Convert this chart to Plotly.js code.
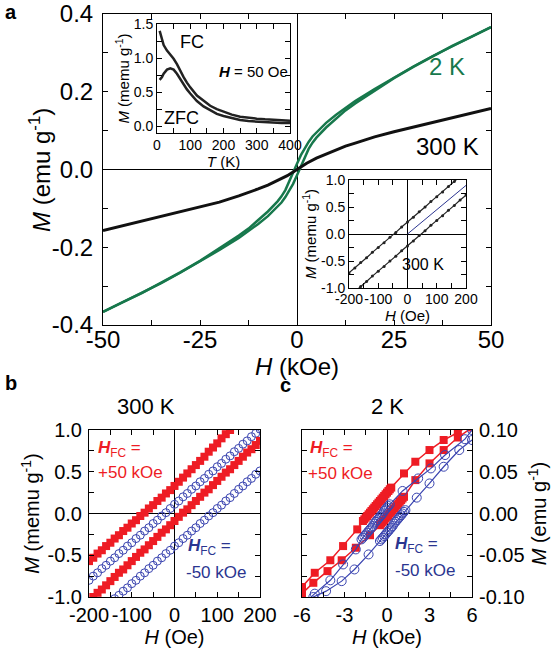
<!DOCTYPE html>
<html><head><meta charset="utf-8">
<script src="https://cdn.plot.ly/plotly-3.0.1.min.js"></script>
<style>html,body{margin:0;padding:0;background:#fff}#plot{width:560px;height:655px}</style>
</head><body><div id="plot"></div>
<script>
// ---------- Panel a: main M(H) loops (kOe, emu/g) ----------
const H_300 = [-50,-45,-40,-35,-30,-25,-20,-15,-12.5,-10,-7.5,-5,-2.5,0,2.5,5,7.5,10,12.5,15,20,25,30,35,40,45,50];
const M_300 = [-0.157,-0.145,-0.133,-0.121,-0.109,-0.097,-0.084,-0.068,-0.060,-0.050,-0.040,-0.029,-0.016,0,0.016,0.029,0.040,0.050,0.060,0.068,0.084,0.097,0.109,0.121,0.133,0.145,0.157];
const H_2K_down = [50,45,40,35,30,25,20,15,12.5,10,7.5,5,4,3,2,1,0,-1,-2,-3,-4,-5,-7.5,-10,-12.5,-15,-20,-25,-30,-35,-40,-45,-50];
const M_2K_down = [0.366,0.342,0.318,0.292,0.265,0.237,0.207,0.176,0.159,0.140,0.120,0.096,0.085,0.071,0.055,0.037,0.015,-0.008,-0.032,-0.053,-0.069,-0.082,-0.108,-0.131,-0.152,-0.170,-0.203,-0.235,-0.264,-0.292,-0.318,-0.342,-0.366];
const H_2K_up = [-50,-45,-40,-35,-30,-25,-20,-15,-12.5,-10,-7.5,-5,-4,-3,-2,-1,0,1,2,3,4,5,7.5,10,12.5,15,20,25,30,35,40,45,50];
const M_2K_up = [-0.366,-0.342,-0.318,-0.292,-0.265,-0.237,-0.207,-0.176,-0.159,-0.140,-0.120,-0.096,-0.085,-0.071,-0.055,-0.037,-0.015,0.008,0.032,0.053,0.069,0.082,0.108,0.131,0.152,0.170,0.203,0.235,0.264,0.292,0.318,0.342,0.366];
const a_xticks = [-50,-25,0,25,50];
const a_xtext = ['-50','-25','0','25','50'];
const a_yticks = [-0.4,-0.2,0,0.2,0.4];
const a_ytext = ['-0.4','-0.2','0.0','0.2','0.4'];

// ---------- Inset 1: FC / ZFC M(T) ----------
const T_fc = [8,15,20,30,40,50,60,70,80,90,100,120,140,160,180,200,225,250,275,300,325,350,375,400];
const M_fc = [1.40,1.28,1.19,1.11,1.05,0.99,0.91,0.81,0.72,0.64,0.57,0.45,0.37,0.30,0.25,0.21,0.17,0.14,0.12,0.11,0.10,0.09,0.085,0.08];
const T_zfc = [8,15,20,30,40,50,60,70,80,90,100,120,140,160,180,200,225,250,275,300,325,350,375,400];
const M_zfc = [0.68,0.72,0.77,0.83,0.85,0.83,0.77,0.69,0.61,0.54,0.48,0.37,0.29,0.23,0.18,0.15,0.12,0.09,0.075,0.065,0.055,0.05,0.045,0.045];
const i1_xticks = [0,100,200,300,400];
const i1_xtext = ['0','100','200','300','400'];
const i1_yticks = [0,0.5,1.0,1.5];
const i1_ytext = ['0.0','0.5','1.0','1.5'];

// ---------- Inset 2: 300 K low-field loop (Oe, memu/g) ----------
const H_i2 = [-200,-180,-160,-140,-120,-100,-80,-60,-40,-20,0,20,40,60,80,100,120,140,160,180,200];
const M_i2_up = [-0.72,-0.63,-0.53,-0.44,-0.34,-0.25,-0.16,-0.06,0.03,0.13,0.22,0.31,0.41,0.50,0.60,0.69,0.78,0.88,0.97,1.07,1.16];
const M_i2_low = [-1.16,-1.07,-0.97,-0.88,-0.78,-0.69,-0.60,-0.50,-0.41,-0.31,-0.22,-0.13,-0.03,0.06,0.16,0.25,0.34,0.44,0.53,0.63,0.72];
const H_i2_virgin = [0,200];
const M_i2_virgin = [0,0.9];
const i2_xticks = [-200,-100,0,100,200];
const i2_xtext = ['-200','-100','0','100','200'];
const i2_yticks = [-1,-0.5,0,0.5,1];
const i2_ytext = ['-1.0','-0.5','0.0','0.5','1.0'];

// ---------- Panel b: 300 K, field-cooled loops ----------
const H_b = [-200,-190,-180,-170,-160,-150,-140,-130,-120,-110,-100,-90,-80,-70,-60,-50,-40,-30,-20,-10,0,10,20,30,40,50,60,70,80,90,100,110,120,130,140,150,160,170,180,190,200];
const M_b_red_up = [-0.57,-0.53,-0.48,-0.44,-0.39,-0.35,-0.30,-0.26,-0.21,-0.17,-0.12,-0.08,-0.03,0.01,0.06,0.10,0.15,0.19,0.24,0.28,0.33,0.38,0.43,0.48,0.53,0.58,0.63,0.68,0.74,0.79,0.84,0.90,0.95,1.00,1.05,1.10,1.15,1.20,1.25,1.30,1.35];
const M_b_red_low = [-1.05,-1.00,-0.95,-0.91,-0.86,-0.81,-0.76,-0.71,-0.67,-0.62,-0.57,-0.52,-0.47,-0.43,-0.38,-0.33,-0.28,-0.23,-0.19,-0.14,-0.09,-0.04,0.01,0.05,0.10,0.15,0.20,0.25,0.29,0.34,0.39,0.44,0.49,0.53,0.58,0.63,0.68,0.73,0.77,0.82,0.87];
const M_b_blue_up = [-0.80,-0.75,-0.71,-0.66,-0.62,-0.57,-0.53,-0.48,-0.44,-0.39,-0.35,-0.30,-0.26,-0.21,-0.17,-0.12,-0.08,-0.03,0.01,0.06,0.11,0.15,0.20,0.24,0.29,0.33,0.38,0.42,0.47,0.51,0.56,0.60,0.65,0.69,0.74,0.78,0.83,0.87,0.92,0.96,1.01];
const M_b_blue_low = [-1.29,-1.25,-1.20,-1.16,-1.11,-1.07,-1.02,-0.98,-0.93,-0.89,-0.84,-0.80,-0.75,-0.71,-0.66,-0.62,-0.57,-0.53,-0.48,-0.44,-0.39,-0.35,-0.30,-0.26,-0.21,-0.17,-0.12,-0.08,-0.03,0.01,0.06,0.10,0.15,0.19,0.24,0.29,0.33,0.38,0.42,0.47,0.51];
const b_xticks = [-200,-100,0,100,200];
const b_xtext = ['-200','-100','0','100','200'];
const b_yticks = [-1,-0.5,0,0.5,1];
const b_ytext = ['-1.0','-0.5','0.0','0.5','1.0'];

// ---------- Panel c: 2 K, field-cooled loops (kOe, emu/g) ----------
const H_c_red_down = [6,5,4,3,2,1.2,0.3,0.2,0.1,0,-0.1,-0.2,-0.3,-0.4,-0.5,-0.6,-0.7,-0.8,-0.9,-1.0,-1.1,-1.2,-1.3,-1.4,-1.5,-1.6,-1.7,-2.1,-3.1,-4,-5.1,-6];
const M_c_red_down = [0.108,0.097,0.088,0.076,0.062,0.048,0.031,0.029,0.027,0.025,0.023,0.021,0.019,0.017,0.015,0.013,0.011,0.009,0.007,0.005,0.003,0.001,-0.001,-0.003,-0.005,-0.007,-0.009,-0.019,-0.039,-0.056,-0.071,-0.088];
const H_c_red_up = [-6,-5.2,-4.2,-3.2,-2.2,-1.2,-0.5,-0.4,-0.3,-0.2,-0.1,0,0.1,0.2,0.3,0.4,0.5,0.6,0.7,0.8,0.9,1.0,1.1,1.2,2,3,4,5,6];
const M_c_red_up = [-0.096,-0.083,-0.069,-0.056,-0.041,-0.026,-0.014,-0.012,-0.010,-0.008,-0.006,-0.004,-0.002,0.000,0.002,0.004,0.006,0.008,0.010,0.012,0.014,0.016,0.018,0.020,0.040,0.060,0.076,0.091,0.103];
const H_c_blue_down = [6,5.5,4.1,3.1,2.2,1.1,0.2,0.1,0,-0.1,-0.2,-0.3,-0.4,-0.5,-0.6,-0.7,-0.8,-0.9,-1.0,-1.1,-1.2,-1.3,-1.4,-1.5,-1.6,-1.7,-1.8,-2.2,-3.1,-4,-5.1,-6];
const M_c_blue_down = [0.100,0.089,0.070,0.054,0.042,0.027,0.011,0.009,0.007,0.005,0.003,0.000,-0.002,-0.004,-0.006,-0.008,-0.010,-0.012,-0.015,-0.017,-0.019,-0.021,-0.023,-0.025,-0.027,-0.029,-0.031,-0.043,-0.061,-0.080,-0.096,-0.110];
const H_c_blue_up = [-6,-5.2,-4.3,-3.2,-2.3,-1.3,-0.5,-0.4,-0.3,-0.2,-0.1,0,0.1,0.2,0.3,0.4,0.5,0.6,0.7,0.8,0.9,1.0,1.1,1.2,1.3,2.1,3,4,5.1,6];
const M_c_blue_up = [-0.112,-0.100,-0.093,-0.081,-0.067,-0.049,-0.033,-0.031,-0.029,-0.027,-0.025,-0.023,-0.021,-0.019,-0.017,-0.015,-0.012,-0.010,-0.008,-0.006,-0.004,-0.002,0.000,0.002,0.004,0.019,0.036,0.056,0.076,0.088];
const c_xticks = [-6,-3,0,3,6];
const c_xtext = ['-6','-3','0','3','6'];
const c_yticks = [-0.1,-0.05,0,0.05,0.1];
const c_ytext = ['-0.10','-0.05','0.00','0.05','0.10'];

// ---------- styling ----------
const FONT = 'Liberation Sans, Arial, Helvetica, sans-serif';
const GREEN = '#17784c', RED = '#ee1c24', BLUE = '#3a44b0', DBLUE = '#2b3590';
const W = 560, Hh = 655;
const px = v => v / W, py = v => 1 - v / Hh;

function ax(domain, range, tickvals, ticktext, size, minorD, extra) {
  return Object.assign({
    domain: domain, range: range, tickmode: 'array', tickvals: tickvals, ticktext: ticktext,
    showline: true, linecolor: 'black', linewidth: 1, mirror: 'ticks',
    ticks: 'inside', ticklen: 5, tickwidth: 1, tickcolor: 'black', tickangle: 0,
    minor: {tickmode: 'linear', tick0: 0, dtick: minorD, ticks: 'inside', ticklen: 5, tickwidth: 1, tickcolor: 'black', showgrid: false},
    showgrid: false, zeroline: true, zerolinecolor: 'black', zerolinewidth: 1,
    tickfont: {family: FONT, size: size, color: 'black'}, fixedrange: true, automargin: false,
    ticklabelstandoff: 0
  }, extra || {});
}

const traces = [
  {x: H_2K_down, y: M_2K_down, xaxis: 'x', yaxis: 'y', mode: 'lines', line: {color: GREEN, width: 2.5}},
  {x: H_2K_up, y: M_2K_up, xaxis: 'x', yaxis: 'y', mode: 'lines', line: {color: GREEN, width: 2.5}},
  {x: H_300, y: M_300, xaxis: 'x', yaxis: 'y', mode: 'lines', line: {color: '#111', width: 3}},
  {x: T_fc, y: M_fc, xaxis: 'x2', yaxis: 'y2', mode: 'lines', line: {color: '#222', width: 2.5}},
  {x: T_zfc, y: M_zfc, xaxis: 'x2', yaxis: 'y2', mode: 'lines', line: {color: '#222', width: 2.5}},
  {x: H_i2_virgin, y: M_i2_virgin, xaxis: 'x3', yaxis: 'y3', mode: 'lines', line: {color: DBLUE, width: 1}},
  {x: H_i2, y: M_i2_up, xaxis: 'x3', yaxis: 'y3', mode: 'lines+markers', line: {color: '#222', width: 1.2}, marker: {color: '#222', size: 3}},
  {x: H_i2, y: M_i2_low, xaxis: 'x3', yaxis: 'y3', mode: 'lines+markers', line: {color: '#222', width: 1.2}, marker: {color: '#222', size: 3}},
  {x: H_b, y: M_b_blue_up, xaxis: 'x4', yaxis: 'y4', mode: 'markers', marker: {symbol: 'circle-open', color: BLUE, size: 8, line: {width: 1, color: BLUE}}},
  {x: H_b, y: M_b_blue_low, xaxis: 'x4', yaxis: 'y4', mode: 'markers', marker: {symbol: 'circle-open', color: BLUE, size: 8, line: {width: 1, color: BLUE}}},
  {x: H_b, y: M_b_red_up, xaxis: 'x4', yaxis: 'y4', mode: 'markers', marker: {symbol: 'square', color: RED, size: 8}},
  {x: H_b, y: M_b_red_low, xaxis: 'x4', yaxis: 'y4', mode: 'markers', marker: {symbol: 'square', color: RED, size: 8}},
  {x: H_c_red_down, y: M_c_red_down, xaxis: 'x5', yaxis: 'y5', mode: 'lines+markers', line: {color: RED, width: 1.5}, marker: {symbol: 'square', color: RED, size: 8}},
  {x: H_c_red_up, y: M_c_red_up, xaxis: 'x5', yaxis: 'y5', mode: 'lines+markers', line: {color: RED, width: 1.5}, marker: {symbol: 'square', color: RED, size: 8}},
  {x: H_c_blue_down, y: M_c_blue_down, xaxis: 'x5', yaxis: 'y5', mode: 'lines+markers', line: {color: BLUE, width: 1.2}, marker: {symbol: 'circle-open', color: BLUE, size: 9, line: {width: 1, color: BLUE}}},
  {x: H_c_blue_up, y: M_c_blue_up, xaxis: 'x5', yaxis: 'y5', mode: 'lines+markers', line: {color: BLUE, width: 1.2}, marker: {symbol: 'circle-open', color: BLUE, size: 9, line: {width: 1, color: BLUE}}}
];

const t = (text, size, standoff) => ({text: text, font: {family: FONT, size: size, color: 'black'}, standoff: standoff});

const layout = {
  width: W, height: Hh, margin: {l: 0, r: 0, t: 0, b: 0}, showlegend: false,
  paper_bgcolor: 'white', plot_bgcolor: 'white',
  font: {family: FONT, color: 'black'},
  xaxis: ax([px(103), px(491)], [-50, 50], a_xticks, a_xtext, 24, 12.5, {anchor: 'y', ticklabelstandoff: -7, title: t('<i>H</i> (kOe)', 24, 0)}),
  yaxis: ax([py(325), py(14)], [-0.4, 0.4], a_yticks, a_ytext, 24, 0.1, {anchor: 'x', ticklabelstandoff: 4}),
  xaxis2: ax([px(157), px(290)], [0, 400], i1_xticks, i1_xtext, 14, 50, {anchor: 'y2', zeroline: false, ticklabelstandoff: -1, title: t('<i>T</i> (K)', 15, 0)}),
  yaxis2: ax([py(133), py(24)], [-0.1, 1.5], i1_yticks, i1_ytext, 14, 0.25, {anchor: 'x2', zeroline: false, title: t('<i>M</i> (memu g<sup>-1</sup>)', 15, 0)}),
  xaxis3: ax([px(349), px(466)], [-200, 200], i2_xticks, i2_xtext, 14, 50, {anchor: 'y3', ticklabelstandoff: -2, title: t('<i>H</i> (Oe)', 15, 0)}),
  yaxis3: ax([py(288), py(180)], [-1, 1], i2_yticks, i2_ytext, 14, 0.25, {anchor: 'x3', title: t('<i>M</i> (memu g<sup>-1</sup>)', 15, 0)}),
  xaxis4: ax([px(89), px(260)], [-200, 200], b_xticks, b_xtext, 20, 50, {anchor: 'y4', title: t('<i>H</i> (Oe)', 20, 2)}),
  yaxis4: ax([py(597), py(430)], [-1, 1], b_yticks, b_ytext, 20, 0.25, {anchor: 'x4', ticklabelstandoff: 2, title: t('<i>M</i> (memu g<sup>-1</sup>)', 20, 2)}),
  xaxis5: ax([px(302), px(472)], [-6, 6], c_xticks, c_xtext, 20, 1.5, {anchor: 'y5', title: t('<i>H</i> (kOe)', 20, 2)}),
  yaxis5: ax([py(597), py(430)], [-0.1, 0.1], c_yticks, c_ytext, 20, 0.025, {anchor: 'x5', side: 'right', ticklabelstandoff: 2, title: t('<i>M</i> (emu g<sup>-1</sup>)', 20, 6)}),
  annotations: [
    {text: '<i>M</i> (emu g<sup>-1</sup>)', x: px(40), y: py(170), size: 24, angle: -90},
    {text: '<b>a</b>', x: px(11), y: py(12), size: 20},
    {text: '2 K', x: px(447), y: py(66), size: 24, color: GREEN},
    {text: '300 K', x: px(447), y: py(146), size: 24},
    {text: 'FC', x: px(192), y: py(42), size: 18},
    {text: 'ZFC', x: px(181), y: py(118), size: 18},
    {text: '<b><i>H</i></b> = 50 Oe', x: px(253), y: py(71), size: 15},
    {text: '300 K', x: px(423), y: py(264), size: 16},
    {text: '<b>b</b>', x: px(11), y: py(383), size: 20},
    {text: '<b>c</b>', x: px(285), y: py(385), size: 20},
    {text: '300 K', x: px(146), y: py(406), size: 22},
    {text: '2 K', x: px(387), y: py(406), size: 22},
    {text: '<b><i>H</i></b><sub>FC</sub> =', x: px(96), y: py(449), size: 17, color: RED, xanchor: 'left'},
    {text: '+50 kOe', x: px(96), y: py(472), size: 17, color: RED, xanchor: 'left'},
    {text: '<b><i>H</i></b><sub>FC</sub> =', x: px(186), y: py(547), size: 17, color: DBLUE, xanchor: 'left'},
    {text: '-50 kOe', x: px(184), y: py(572), size: 17, color: DBLUE, xanchor: 'left'},
    {text: '<b><i>H</i></b><sub>FC</sub> =', x: px(308), y: py(449), size: 17, color: RED, xanchor: 'left'},
    {text: '+50 kOe', x: px(306), y: py(473), size: 17, color: RED, xanchor: 'left'},
    {text: '<b><i>H</i></b><sub>FC</sub> =', x: px(393), y: py(545), size: 17, color: DBLUE, xanchor: 'left'},
    {text: '-50 kOe', x: px(393), y: py(570), size: 17, color: DBLUE, xanchor: 'left'}
  ].map(a => ({
    text: a.text, x: a.x, y: a.y, xref: 'paper', yref: 'paper', showarrow: false,
    xanchor: a.xanchor || 'center', yanchor: 'middle', textangle: a.angle || 0,
    font: {family: FONT, size: a.size, color: a.color || 'black'}
  }))
};

Plotly.newPlot('plot', traces, layout, {displayModeBar: false, staticPlot: true});
</script>
</body></html>
